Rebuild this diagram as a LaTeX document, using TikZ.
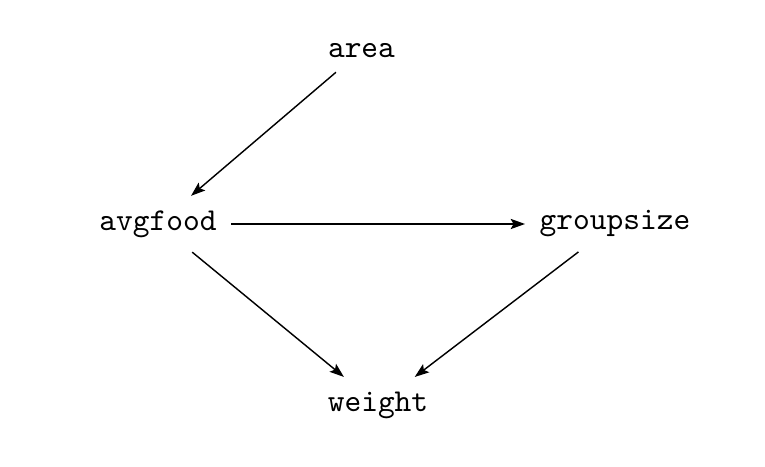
\documentclass[tikz,border=0pt]{standalone}
\usetikzlibrary{arrows.meta}
\begin{document}
\begin{tikzpicture}[x=0.3137pt,y=-0.3137pt,
  var/.style={font=\ttfamily, inner sep=4.4pt},
  edge/.style={-{Stealth[length=4.5pt,width=3.2pt,inset=0.9pt]}, line width=0.45pt}]
\useasboundingbox (0,0) rectangle (765,467);
\node[var] (area) at (361.5,50.5) {area};
\node[var] (avgfood) at (158,224) {avgfood};
\node[var] (groupsize) at (615,224) {groupsize};
\node[var] (weight) at (378,405) {weight};
\draw[edge] (area) -- (avgfood);
\draw[edge] (avgfood) -- (groupsize);
\draw[edge] (avgfood) -- (weight);
\draw[edge] (groupsize) -- (weight);
\end{tikzpicture}
\end{document}
